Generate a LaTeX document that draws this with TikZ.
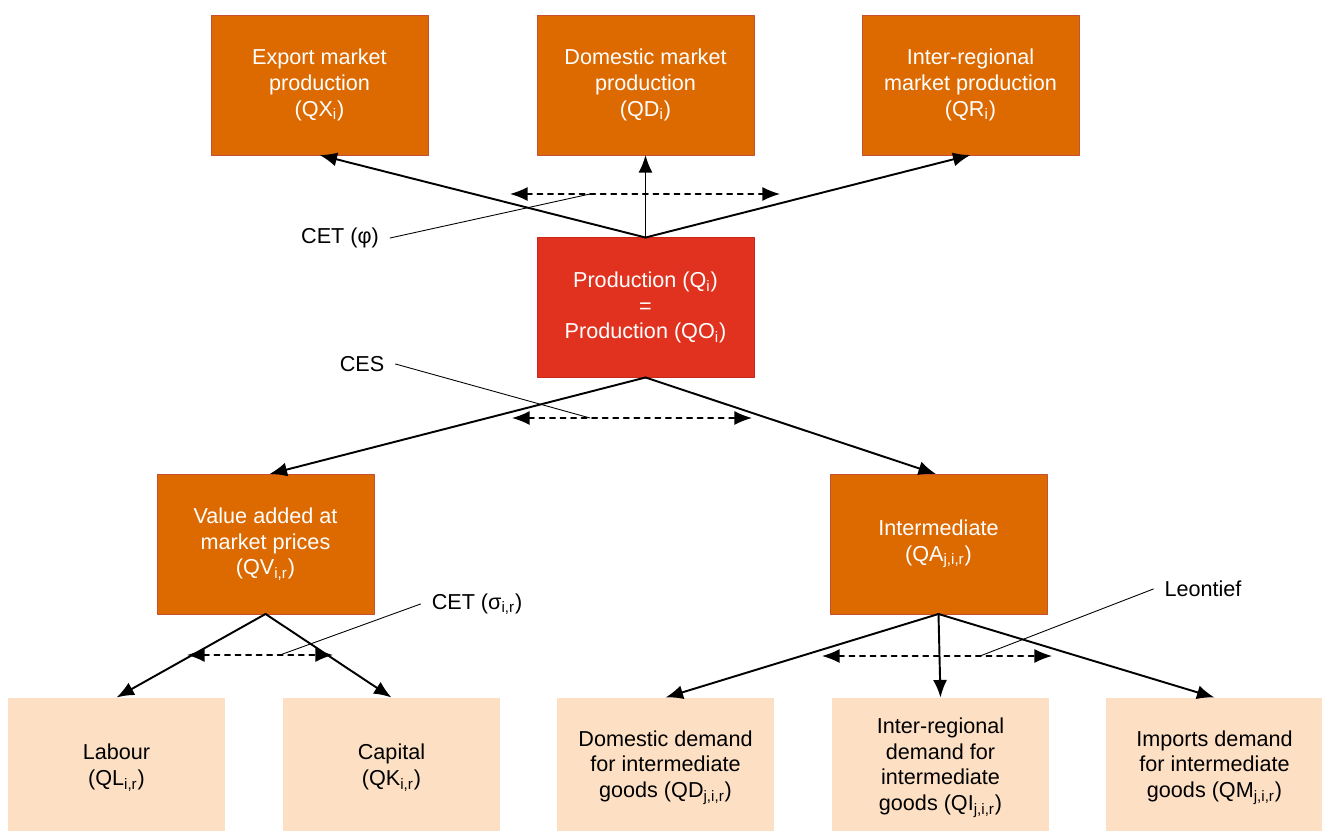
\documentclass[tikz,border=0pt]{standalone}
\usepackage{fontspec}
\setmainfont{Liberation Sans}
\usetikzlibrary{arrows.meta}

\begin{document}
\begin{tikzpicture}[x=0.02cm,y=-0.02cm,>=Latex,line cap=round,line join=round]

% Colors
\definecolor{boxorange}{RGB}{221,106,0}
\definecolor{edgeorange}{RGB}{200,80,50}
\definecolor{boxred}{RGB}{224,50,30}
\definecolor{edgered}{RGB}{200,40,25}
\definecolor{boxpeach}{RGB}{253,224,196}

% Styles
\tikzset{
  basebox/.style={minimum width=4.34cm,minimum height=2.8cm,inner sep=0pt,outer sep=0pt,
    align=center,font=\fontsize{12.3}{14.6}\selectfont},
  orangebox/.style={basebox,fill=boxorange,draw=edgeorange,line width=0.5pt,text=white},
  redbox/.style={basebox,fill=boxred,draw=edgered,line width=0.5pt,text=white},
  peachbox/.style={basebox,fill=boxpeach},
  flow/.style={draw=black,line width=1.1pt,-{Latex[length=10pt,width=8pt]}},
  subst/.style={draw=black,line width=0.9pt,dashed,{Latex[length=10pt,width=8pt]}-{Latex[length=10pt,width=8pt]}},
  leader/.style={draw=black,line width=0.5pt},
  elastlabel/.style={font=\fontsize{12.3}{14.6}\selectfont}
}

\useasboundingbox (0,0) rectangle (1322,831);

% Top row
\node[orangebox] (export) at (319.5,85) {Export market\\production\\(QX\textsubscript{i})};
\node[orangebox] (domestic) at (645.5,85) {Domestic market\\production\\(QD\textsubscript{i})};
\node[orangebox] (interreg) at (970.5,85) {Inter-regional\\market production\\(QR\textsubscript{i})};

% Production
\node[redbox] (prod) at (645.5,307.5) {Production (Q\textsubscript{i})\\=\\Production (QO\textsubscript{i})};

% Middle row
\node[orangebox] (valadd) at (265.5,544) {Value added at\\market prices\\(QV\textsubscript{i,r})};
\node[orangebox] (interm) at (938.5,544) {Intermediate\\(QA\textsubscript{j,i,r})};

% Bottom row
\node[peachbox] (labour) at (116.5,767.5) {Labour\\(QL\textsubscript{i,r})};
\node[peachbox] (capital) at (391.5,767.5) {Capital\\(QK\textsubscript{i,r})};
\node[peachbox] (domdem) at (665.5,767.5) {Domestic demand\\for intermediate\\goods (QD\textsubscript{j,i,r})};
\node[peachbox] (irdem) at (940.5,767.5) {Inter-regional\\demand for\\intermediate\\goods (QI\textsubscript{j,i,r})};
\node[peachbox] (impdem) at (1214.5,767.5) {Imports demand\\for intermediate\\goods (QM\textsubscript{j,i,r})};

% Flows
\draw[flow] (prod.north) -- (export.south);
\draw[flow] (prod.north) -- (domestic.south);
\draw[flow] (prod.north) -- (interreg.south);
\draw[flow] (prod.south) -- ([xshift=0.08cm]valadd.north);
\draw[flow] (prod.south) -- ([xshift=-0.05cm]interm.north);
\draw[flow] (valadd.south) -- (labour.north);
\draw[flow] (valadd.south) -- (capital.north);
\draw[flow] (interm.south) -- (domdem.north);
\draw[flow] (interm.south) -- (irdem.north);
\draw[flow] (interm.south) -- (impdem.north);

% Substitution arrows
\coordinate (topL) at (510,194);
\coordinate (topR) at (780,194);
\coordinate (midL) at (512,418);
\coordinate (midR) at (752,418);
\coordinate (vaL) at (187,655);
\coordinate (vaR) at (333,655);
\coordinate (inL) at (822,656);
\coordinate (inR) at (1052,656);
\draw[subst] (topL) -- (topR);
\draw[subst] (midL) -- (midR);
\draw[subst] (vaL) -- (vaR);
\draw[subst] (inL) -- (inR);

% Elasticity labels and leaders
\node[elastlabel] (cetphi) at (340,238) {CET (φ)};
\node[elastlabel] (ces) at (362,364) {CES};
\node[elastlabel] (cetsig) at (477,604) {CET (σ\textsubscript{i,r})};
\node[elastlabel] (leon) at (1203,589) {Leontief};
\coordinate (cetphiend) at (590,194);
\coordinate (cesend) at (590,418);
\coordinate (cetsigend) at (280,655);
\coordinate (leonend) at (980,656);
\draw[leader] ([xshift=0.1cm]cetphi.east) -- (cetphiend);
\draw[leader] ([xshift=0.1cm]ces.east) -- (cesend);
\draw[leader] ([xshift=-0.1cm]cetsig.west) -- (cetsigend);
\draw[leader] ([xshift=-0.1cm]leon.west) -- (leonend);

\end{tikzpicture}
\end{document}
